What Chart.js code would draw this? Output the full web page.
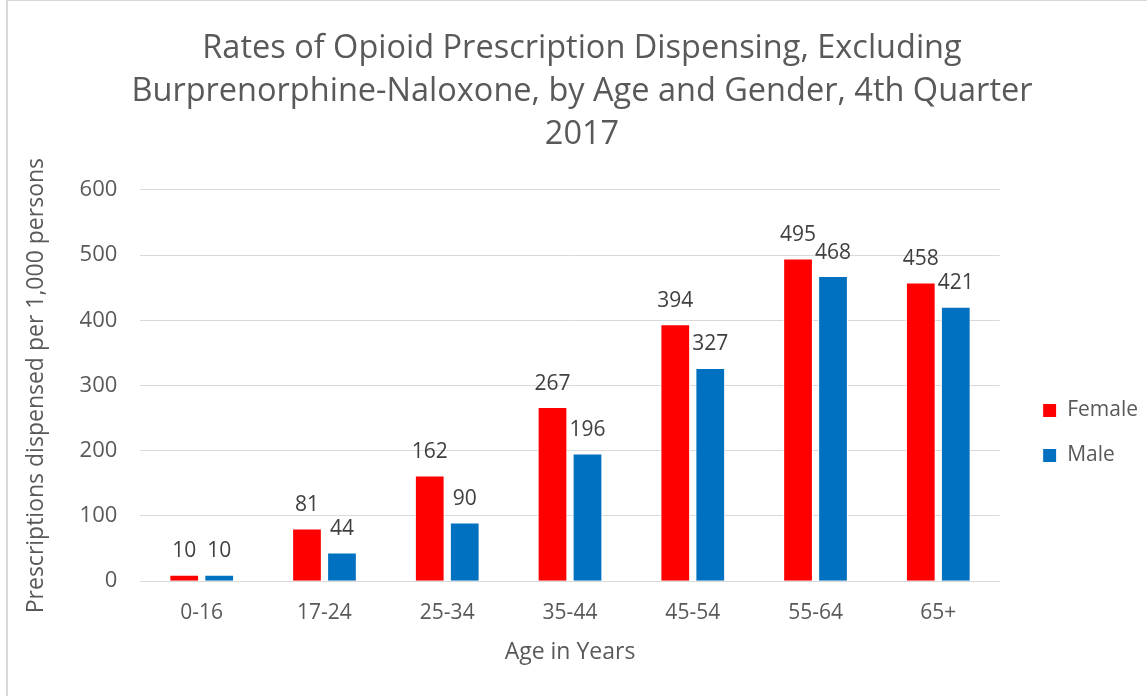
<!DOCTYPE html>
<html>
<head>
<meta charset="utf-8">
<script src="https://cdn.jsdelivr.net/npm/chart.js"></script>
<style>
  html, body { margin: 0; padding: 0; background: #fff; overflow: hidden; }
  #wrap { position: absolute; left: 0; top: 0; width: 1147px; height: 696px; }
  #frame { position: absolute; left: 6px; top: 0; width: 1160px; height: 720px; border-left: 2px solid #d9d9d9; border-top: 1px solid #d9d9d9; }
  canvas { position: absolute; left: 0; top: 0; }
</style>
</head>
<body>
<div id="wrap">
  <div id="frame"></div>
  <canvas id="myChart" width="1147" height="696"></canvas>
</div>
<script>
// Chart data
const ageGroups = ['0-16', '17-24', '25-34', '35-44', '45-54', '55-64', '65+'];
const femaleRates = [10, 81, 162, 267, 394, 495, 458];
const maleRates = [10, 44, 90, 196, 327, 468, 421];
const yTicks = [0, 100, 200, 300, 400, 500, 600];

const chartTitle = [
  'Rates of Opioid Prescription Dispensing, Excluding',
  'Burprenorphine-Naloxone, by Age and Gender, 4th Quarter',
  '2017'
];

const fontFamily = '"Open Sans", "Liberation Sans", sans-serif';
const grey = '#595959';

// Draws the value above each bar
const barLabels = {
  id: 'barLabels',
  afterDatasetsDraw(chart) {
    const ctx = chart.ctx;
    ctx.save();
    ctx.font = '21px ' + fontFamily;
    ctx.fillStyle = '#404040';
    ctx.textAlign = 'center';
    ctx.textBaseline = 'bottom';
    chart.data.datasets.forEach((ds, i) => {
      chart.getDatasetMeta(i).data.forEach((bar, j) => {
        ctx.fillText(String(ds.data[j]), bar.x, bar.y - 13);
      });
    });
    ctx.restore();
  }
};

// Nudges the legend and the title to where the original has them
const blockShift = {
  id: 'blockShift',
  afterLayout(chart) {
    const lg = chart.legend;
    lg.top += 98;
    lg.bottom += 98;
    lg.left += 19;
    lg.right += 19;
    const t = chart.titleBlock;
    t.left += 6;
    t.right += 6;
  }
};

const ctx = document.getElementById('myChart').getContext('2d');
const myChart = new Chart(ctx, {
  type: 'bar',
  data: {
    labels: ageGroups,
    datasets: [
      {
        label: 'Female',
        data: femaleRates,
        backgroundColor: '#FF0000',
        borderColor: '#ffffff',
        borderWidth: 1
      },
      {
        label: 'Male',
        data: maleRates,
        backgroundColor: '#0070C0',
        borderColor: '#ffffff',
        borderWidth: 1
      }
    ]
  },
  options: {
    responsive: false,
    animation: false,
    categoryPercentage: 0.57,
    barPercentage: 0.85,
    layout: { padding: { left: 23, right: 18, top: 0, bottom: 26 } },
    plugins: {
      title: {
        display: true,
        text: chartTitle,
        color: grey,
        font: { family: fontFamily, size: 32.5, weight: 'normal', lineHeight: 1.323 },
        padding: { top: 27, bottom: 34 }
      },
      legend: {
        position: 'right',
        labels: {
          color: grey,
          font: { family: fontFamily, size: 21 },
          boxWidth: 14,
          boxHeight: 14,
          padding: 24,
          useBorderRadius: false
        }
      },
      tooltip: { enabled: false }
    },
    scales: {
      x: {
        grid: { display: false },
        border: { color: '#d9d9d9' },
        ticks: { color: grey, font: { family: fontFamily, size: 21 }, padding: 11 },
        title: {
          display: true,
          text: 'Age in Years',
          color: grey,
          font: { family: fontFamily, size: 23 },
          padding: { top: 2, bottom: 4 }
        }
      },
      y: {
        min: 0,
        max: 600,
        afterBuildTicks(axis) { axis.ticks = yTicks.map(v => ({ value: v })); },
        grid: { color: '#d9d9d9', drawTicks: false },
        border: { display: false },
        ticks: { color: grey, font: { family: fontFamily, size: 22 }, padding: 23 },
        title: {
          display: true,
          text: 'Prescriptions dispensed per 1,000 persons',
          color: grey,
          font: { family: fontFamily, size: 23 },
          padding: { top: 0, bottom: 6 }
        }
      }
    }
  },
  plugins: [barLabels, blockShift]
});
</script>
</body>
</html>
